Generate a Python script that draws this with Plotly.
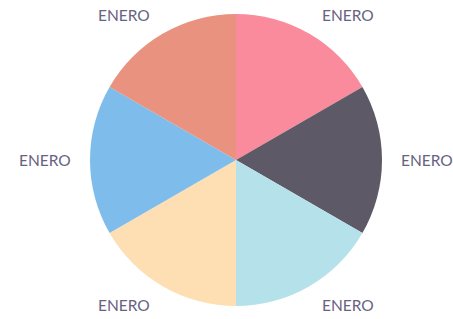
import math
import plotly.graph_objects as go

categories = ["ENERO", "ENERO", "ENERO", "ENERO", "ENERO", "ENERO"]
values = [1, 1, 1, 1, 1, 1]
colors = ["#F98B9C", "#5D5967", "#B5E2EA", "#FEDFB4", "#7EBDEB", "#E9927F"]

W, H = 453, 319
CX, CY, R = 236, 160, 146  # pie centre/radius in pixels (layout)

fig = go.Figure(go.Pie(
    labels=[f"{c}_{i}" for i, c in enumerate(categories)],
    values=values,
    sort=False,
    direction="clockwise",
    rotation=0,
    textinfo="none",
    hoverinfo="none",
    marker=dict(colors=colors, line=dict(width=0)),
    domain=dict(x=[(CX - R) / W, (CX + R) / W],
                y=[(H - CY - R) / H, (H - CY + R) / H]),
    showlegend=False,
))

total = sum(values)
acc = 0
for cat, v in zip(categories, values):
    mid = acc + v / 2
    acc += v
    ang = math.pi / 2 - 2 * math.pi * mid / total  # clockwise from 12 o'clock
    c, s = math.cos(ang), math.sin(ang)
    gap = 17 if abs(s) < 0.1 else 22
    px = CX + (R + gap) * c
    py = CY - (R + gap) * s
    xa = "left" if c > 0.1 else ("right" if c < -0.1 else "center")
    fig.add_annotation(
        x=px / W, y=1 - py / H, xref="paper", yref="paper",
        text=cat, showarrow=False, xanchor=xa, yanchor="middle",
        font=dict(family="Lato", size=15.5, color="#67627F"),
    )

fig.update_layout(
    width=W, height=H,
    margin=dict(l=0, r=0, t=0, b=0),
    paper_bgcolor="white", plot_bgcolor="white",
)
fig.write_html("out.html", config={"displayModeBar": False},
               post_script="document.body.style.margin='0';document.body.style.overflow='hidden';")
